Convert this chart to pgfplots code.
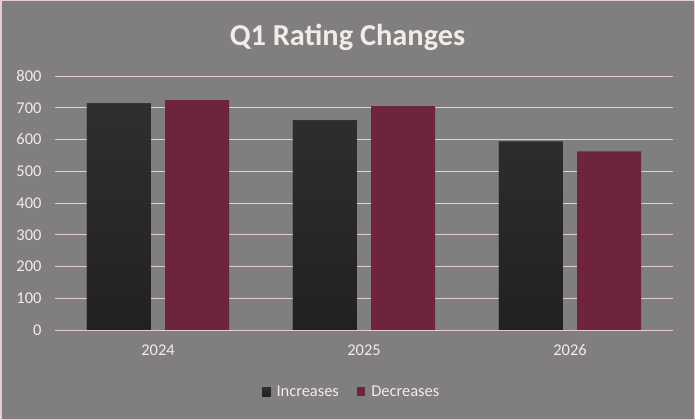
\documentclass[border=0pt]{standalone}
\usepackage{fontspec}
\setmainfont{Carlito}
\usepackage{pgfplots}
\pgfplotsset{compat=1.18}
\definecolor{bg}{HTML}{807E7F}
\definecolor{frame}{HTML}{E8CCD6}
\definecolor{gridc}{HTML}{E6CBD4}
\definecolor{txt}{HTML}{F0EDE8}
\definecolor{incTop}{HTML}{2F2F31}
\definecolor{incBot}{HTML}{212123}
\definecolor{dec}{HTML}{6E243A}
\begin{document}
\begin{tikzpicture}
\useasboundingbox (0,0) rectangle (695bp,420bp);
\fill[bg] (0,0) rectangle (695bp,420bp);
\draw[frame, line width=1.5bp] (0.75bp,0.75bp) rectangle (694.25bp,419.25bp);
\node[text=txt, font=\fontsize{30.5}{35}\selectfont\bfseries] at (347.5bp,383bp) {Q1 Rating Changes};
\begin{axis}[
  at={(55bp,90bp)}, anchor=south west,
  width=618bp, height=254bp, scale only axis,
  xmin=-0.5, xmax=2.5, ymin=0, ymax=800,
  xtick={0,1,2}, xticklabels={2024,2025,2026},
  ytick={0,100,...,800},
  axis line style={draw=none},
  major tick length=0pt,
  ymajorgrids, grid style={gridc, line width=1bp},
  ticklabel style={text=txt, font=\fontsize{16.5}{19}\selectfont},
  /pgf/number format/assume math mode=true,
  yticklabel style={xshift=-10bp},
  xticklabel style={yshift=-11bp},
  bar width=0.31,
  legend style={at={(0.48,-0.244)}, anchor=center, draw=none, fill=none,
    text=txt, font=\fontsize{16.5}{19}\selectfont, legend columns=2,
    /tikz/every odd column/.append style={column sep=4bp},
    /tikz/every even column/.append style={column sep=16bp},
    cells={anchor=west}, inner sep=0pt},
  legend image code/.code={\fill[#1] (0bp,-4.5bp) rectangle (8.5bp,4.5bp);},
]
\addplot[ybar, bar shift=-0.19, draw=none, top color=incTop, bottom color=incBot, fill=incBot]
  coordinates {(0,714) (1,660) (2,593)};
\addlegendentry{Increases}
\addplot[ybar, bar shift=0.19, draw=none, fill=dec]
  coordinates {(0,724) (1,705) (2,563)};
\addlegendentry{Decreases}
\end{axis}
\end{tikzpicture}
\end{document}
